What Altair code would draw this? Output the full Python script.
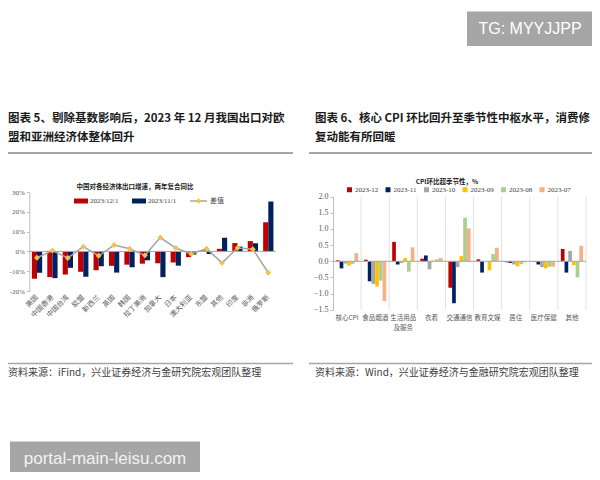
import altair as alt
import pandas as pd

# ---------------- data: left chart (China exports, 2-yr CAGR yoy, %) ----------------
left_categories = ["美国", "中国香港", "中国台湾", "欧盟", "新西兰", "英国", "韩国", "拉丁美洲",
                   "加拿大", "日本", "澳大利亚", "东盟", "其他", "印度", "非洲", "俄罗斯"]
left_series = ["2023/12/1", "2023/11/1"]
dec_2023 = [-13.8, -13.0, -11.7, -10.3, -9.5, -7.3, -6.7, -6.2, -6.0, -5.6, -2.9, 0.5, 1.3, 4.2, 5.2, 14.7]
nov_2023 = [-10.8, -13.5, -8.3, -12.8, -7.5, -10.7, -8.0, -4.5, -13.0, -7.2, -1.6, -1.3, 6.9, 2.4, 4.1, 25.2]
diff_vals = [-3.2, 0.4, -3.3, 2.4, -2.2, 3.2, 1.3, -2.0, 7.0, 1.7, -1.3, 1.4, -5.8, 1.7, 1.1, -10.8]
left_yticks = [-20, -10, 0, 10, 20, 30]

# ---------------- data: right chart (core CPI mom beyond seasonal, %) ----------------
right_categories = ["核心CPI", "食品烟酒", "生活用品及服务", "衣着", "交通通信", "教育文娱", "居住", "医疗保健", "其他"]
right_series = ["2023-12", "2023-11", "2023-10", "2023-09", "2023-08", "2023-07"]
s_2023_12 = [0.03, 0.05, 0.60, 0.08, -0.82, 0.06, -0.03, -0.02, 0.38]
s_2023_11 = [-0.22, -0.62, -0.10, 0.18, -1.30, -0.35, -0.05, -0.10, -0.35]
s_2023_10 = [-0.07, -0.70, -0.05, -0.25, -0.18, 0.00, -0.10, -0.18, 0.32]
s_2023_09 = [-0.13, -0.78, 0.10, 0.02, 0.16, -0.28, -0.16, -0.22, -0.12]
s_2023_08 = [-0.08, -0.60, -0.32, 0.06, 1.35, 0.22, -0.09, -0.17, -0.50]
s_2023_07 = [0.25, -1.23, 0.43, 0.10, 1.02, 0.42, -0.03, -0.17, 0.48]
right_yticks = [-1.5, -1.0, -0.5, 0.0, 0.5, 1.0, 1.5, 2.0]

# ---------------- styling / layout ----------------
W, H = 584, 464
CJK = "Noto Sans CJK SC"
SERIF = "Liberation Serif"
RED, NAVY = "#C00000", "#002060"
right_colors = ["#C00000", "#002060", "#A6A6A6", "#FFC000", "#A9D18E", "#F4B183"]
AX = "#A6A6A6"
LAB = "#595959"

L_X0, L_X1 = 21.3, 268.0
L_Y_TOP, L_Y_BOT = 184.0, 283.0
R_X0, R_X1 = 325.0, 578.0
R_Y_TOP, R_Y_BOT = 188.7, 301.7

one = alt.Data(values=[{}])


def text(s, x, y, size, font=CJK, color="#1a1a1a", align="left", weight="normal"):
    return alt.Chart(one).mark_text(text=s, font=font, fontSize=size, color=color, align=align,
                                    baseline="middle", fontWeight=weight).encode(
        x=alt.value(x), y=alt.value(y))


def hrule(x0, x1, y, color="#A6A6A6", w=2.0):
    return alt.Chart(one).mark_rule(color=color, strokeWidth=w).encode(
        x=alt.value(x0), x2=alt.value(x1), y=alt.value(y))


def box(x0, x1, y0, y1, color):
    return alt.Chart(one).mark_rect(color=color).encode(
        x=alt.value(x0), x2=alt.value(x1), y=alt.value(y0), y2=alt.value(y1))


# ---------------- left chart ----------------
xsL = alt.Scale(range=[L_X0, L_X1], paddingInner=0, paddingOuter=0)
ysL = alt.Scale(domain=[-20, 30], range=[L_Y_BOT, L_Y_TOP], nice=False, zero=False)
axL_x = alt.Axis(orient="bottom", offset=L_Y_BOT - H, title=None, domain=False, ticks=False,
                 labelAngle=-45, labelAlign="right", labelBaseline="middle", labelPadding=5,
                 labelFont=CJK, labelFontSize=7, labelColor=LAB)
axL_y = alt.Axis(orient="left", offset=-L_X0, values=left_yticks, labelExpr="datum.value + '%'",
                 grid=False, title=None, domainColor="#BFBFBF", tickColor="#BFBFBF", tickSize=3,
                 labelFont=SERIF, labelFontSize=7, labelColor=LAB, labelPadding=2)

left_df = pd.DataFrame({
    "cat": left_categories * 2,
    "series": [left_series[0]] * len(left_categories) + [left_series[1]] * len(left_categories),
    "value": dec_2023 + nov_2023,
})
diff_df = pd.DataFrame({"cat": left_categories, "diff": diff_vals})

left_bars = alt.Chart(left_df).mark_bar().encode(
    x=alt.X("cat:N", sort=left_categories, scale=xsL, axis=axL_x),
    xOffset=alt.XOffset("series:N", sort=left_series, scale=alt.Scale(paddingInner=0, paddingOuter=0.5)),
    y=alt.Y("value:Q", scale=ysL, axis=axL_y),
    color=alt.Color("series:N", sort=left_series,
                    scale=alt.Scale(domain=left_series, range=[RED, NAVY]), legend=None),
)

left_zero = alt.Chart(one).mark_rule(color=AX, strokeWidth=1).encode(
    y=alt.YDatum(0, axis=axL_y, scale=ysL), x=alt.value(L_X0), x2=alt.value(L_X1))

diff_base = alt.Chart(diff_df).encode(
    x=alt.X("cat:N", sort=left_categories, scale=xsL, axis=axL_x),
    y=alt.Y("diff:Q", scale=ysL, axis=axL_y),
)
diff_line = diff_base.mark_line(color="#A5A5A5", strokeWidth=1.5)
diff_pts = diff_base.mark_point(shape="diamond", filled=True, color="#F2C14E", size=35, opacity=1)

left_legend = alt.layer(
    box(66, 80, 190.5, 195.5, RED),
    text("2023/12/1", 82, 193, 7, font=SERIF, color="#404040"),
    box(124, 138, 190.5, 195.5, NAVY),
    text("2023/11/1", 140, 193, 7, font=SERIF, color="#404040"),
    hrule(182, 199, 193, color="#A5A5A5", w=1.5),
    alt.Chart(one).mark_point(shape="diamond", filled=True, color="#F2C14E", size=30, opacity=1).encode(
        x=alt.value(190.5), y=alt.value(193)),
    text("差值", 202, 193, 7, color="#404040"),
    text("中国对各经济体出口增速，两年复合同比", 127, 179, 6.5, color="#1a1a1a", align="center", weight="bold"),
)

left = alt.layer(left_bars, left_zero, diff_line, diff_pts, left_legend)

# ---------------- right chart ----------------
xsR = alt.Scale(range=[R_X0, R_X1], paddingInner=0, paddingOuter=0)
ysR = alt.Scale(domain=[-1.5, 2.0], range=[R_Y_BOT, R_Y_TOP], nice=False, zero=False)
axR_x = alt.Axis(orient="bottom", offset=R_Y_BOT - H, title=None, domain=False, ticks=False,
                 labelAngle=0, labelPadding=5, labelFont=CJK, labelFontSize=6.5, labelColor=LAB,
                 labelLineHeight=10,
                 labelExpr="datum.value == '生活用品及服务' ? ['生活用品', '及服务'] : datum.label")
axR_y = alt.Axis(orient="left", offset=-R_X0, values=right_yticks, format=".1f", grid=False,
                 title=None, domainColor="#BFBFBF", tickColor="#BFBFBF", tickSize=3,
                 labelFont=SERIF, labelFontSize=8, labelColor=LAB, labelPadding=2)

right_values = [s_2023_12, s_2023_11, s_2023_10, s_2023_09, s_2023_08, s_2023_07]
right_df = pd.DataFrame({
    "cat": right_categories * len(right_series),
    "series": [s for s in right_series for _ in right_categories],
    "value": [v for vals in right_values for v in vals],
})
sep_df = pd.DataFrame({"cat": right_categories})

right_bars = alt.Chart(right_df).mark_bar().encode(
    x=alt.X("cat:N", sort=right_categories, scale=xsR, axis=axR_x),
    xOffset=alt.XOffset("series:N", sort=right_series, scale=alt.Scale(paddingInner=0, paddingOuter=0.8)),
    y=alt.Y("value:Q", scale=ysR, axis=axR_y),
    color=alt.Color("series:N", sort=right_series,
                    scale=alt.Scale(domain=right_series, range=right_colors),
                    legend=alt.Legend(title=None, orient="none", legendX=338, legendY=178,
                                      direction="horizontal", columns=6, symbolType="square",
                                      symbolSize=25, symbolStrokeWidth=0, labelFont=SERIF,
                                      labelFontSize=7, labelColor="#404040", labelOffset=2,
                                      columnPadding=5.5, padding=0)),
)

right_seps = alt.Chart(sep_df).mark_rule(color="#D9D9D9", strokeWidth=0.8).encode(
    x=alt.X("cat:N", sort=right_categories, scale=xsR, axis=axR_x, bandPosition=1),
    y=alt.YDatum(2.0, axis=axR_y, scale=ysR),
    y2=alt.Y2Datum(-1.5),
)

right_zero = alt.Chart(one).mark_rule(color=AX, strokeWidth=1).encode(
    y=alt.YDatum(0, axis=axR_y, scale=ysR), x=alt.value(R_X0), x2=alt.value(R_X1))

right_title = text("CPI环比超季节性，%", 439, 174, 6.5, align="center", weight="bold")

right = alt.layer(right_bars, right_seps, right_zero, right_title)

# ---------------- page decorations ----------------
decor = alt.layer(
    box(459, 585, 3.5, 38, "#A6A6A6"),
    text("TG: MYYJJPP", 522, 21, 16, font="Liberation Sans", color="#ffffff", align="center"),
    text("图表 5、剔除基数影响后，2023 年 12 月我国出口对欧", 0, 111, 11.5, weight="bold"),
    text("盟和亚洲经济体整体回升", 0, 130, 11.5, weight="bold"),
    text("图表 6、核心 CPI 环比回升至季节性中枢水平，消费修", 307, 111, 11.5, weight="bold"),
    text("复动能有所回暖", 307, 130, 11.5, weight="bold"),
    hrule(0, 285, 145),
    hrule(301, 584, 145),
    hrule(0, 285, 355.5, w=1.5),
    hrule(301, 584, 355.5, w=1.5),
    text("资料来源：iFind，兴业证券经济与金研究院宏观团队整理", 0, 365, 10, color="#404040"),
    text("资料来源：Wind，兴业证券经济与金融研究院宏观团队整理", 307, 365, 10, color="#404040"),
    box(2, 192, 433.5, 468, "#A6A6A6"),
    text("portal-main-leisu.com", 97, 451, 17, font="Liberation Sans", color="#f2f2f2", align="center"),
)

chart = alt.layer(left, right, decor).resolve_scale(
    x="independent", y="independent", color="independent", xOffset="independent"
).resolve_axis(x="independent", y="independent").resolve_legend(color="independent").properties(
    width=W, height=H, autosize=alt.AutoSizeParams(type="none"), padding=0, background="white"
).configure_view(strokeWidth=0)

chart.save("out.html", embed_options={"renderer": "svg", "actions": False})
